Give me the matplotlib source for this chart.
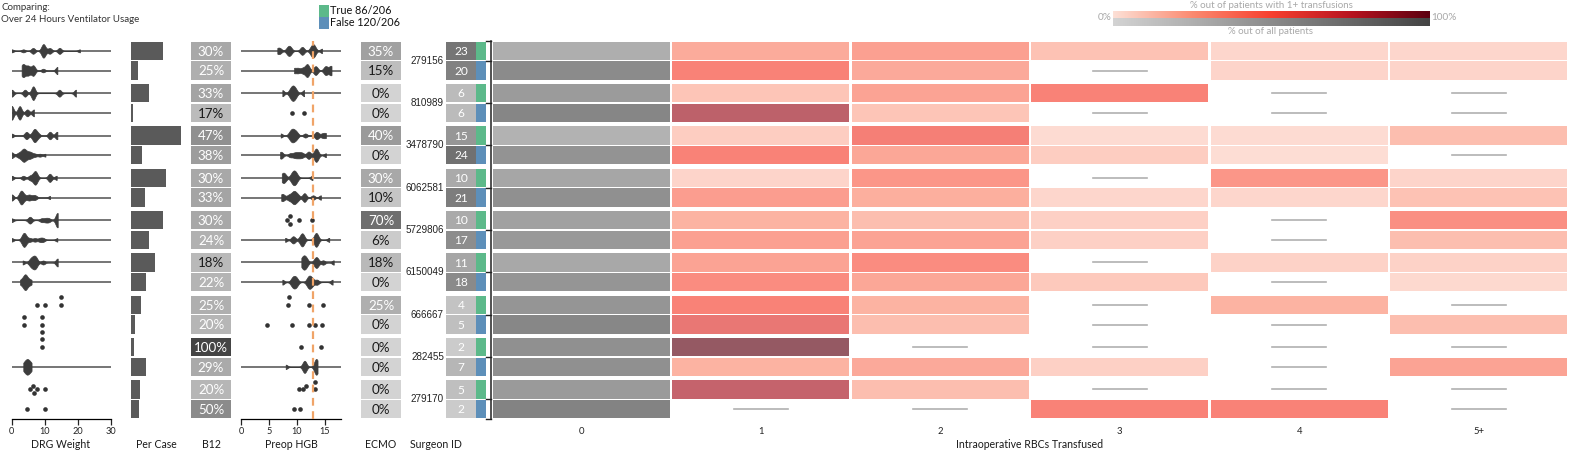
import numpy as np
import matplotlib
matplotlib.use("Agg")
import matplotlib.pyplot as plt
from matplotlib.colors import LinearSegmentedColormap
from matplotlib.patches import Rectangle
import matplotlib.transforms as mtransforms

plt.rcParams['font.family'] = ['Lato', 'DejaVu Sans']

# ---------------- data ----------------
surgeons = ['279156', '810989', '3478790', '6062581', '5729806',
            '6150049', '666667', '282455', '279170']
n_true = [23, 6, 15, 10, 10, 11, 4, 2, 5]
n_false = [20, 6, 24, 21, 17, 18, 5, 7, 2]
legend_labels = ['True 86/206', 'False 120/206']
title_lines = ['Comparing:', 'Over 24 Hours Ventilator Usage']

# rows: surgeon True, surgeon False, ...
per_case = [3.2, 0.7, 1.77, 0.2, 5.0, 1.07, 3.5, 1.4, 3.2, 1.77,
            2.43, 1.47, 1.03, 0.43, 0.33, 1.47, 0.87, 0.83]
b12_pct = [30, 25, 33, 17, 47, 38, 30, 33, 30, 24, 18, 22, 25, 20, 100, 29, 20, 50]
ecmo_pct = [35, 15, 0, 0, 40, 0, 30, 10, 70, 6, 18, 0, 25, 0, 0, 0, 0, 0]

rbc_labels = ['0', '1', '2', '3', '4', '5+']
pct_zero = [0.26, 0.50, 0.39, 0.54, 0.23, 0.45, 0.32, 0.47, 0.35, 0.41,
            0.30, 0.43, 0.43, 0.53, 0.47, 0.47, 0.40, 0.56]
nan = np.nan
rbc_1 = [0.29, 0.50, 0.17, 0.83, 0.13, 0.50, 0.10, 0.36, 0.25, 0.35,
         0.33, 0.45, 0.50, 0.60, 1.00, 0.25, 0.80, nan]
rbc_2 = [0.35, 0.30, 0.33, 0.17, 0.53, 0.31, 0.40, 0.27, 0.20, 0.33,
         0.45, 0.31, 0.25, 0.20, nan, 0.30, 0.20, nan]
rbc_3 = [0.18, nan, 0.50, nan, 0.07, 0.13, nan, 0.09, 0.12, 0.12,
         nan, 0.15, nan, nan, nan, 0.12, nan, 0.50]
rbc_4 = [0.09, 0.10, nan, nan, 0.07, 0.06, 0.40, 0.09, nan, nan,
         0.11, nan, 0.25, nan, nan, nan, nan, 0.50]
rbc_5 = [0.09, 0.10, nan, nan, 0.20, nan, 0.10, 0.18, 0.43, 0.20,
         0.11, 0.08, nan, 0.20, nan, 0.33, nan, nan]

drg_weight = [
    [0, 3.5, 6.3, 6.6, 9.2, 9.5, 9.5, 9.7, 10.0, 11.3, 11.7, 14.4, 14.5, 20.6],
    [3.0, 3.3, 3.5, 3.8, 4.5, 5.0, 5.2, 6.3, 6.5, 6.7, 9.5, 13.8, 13.8],
    [0, 4.0, 6.4, 6.6, 14.4, 19.4],
    [0, 0, 2.3, 2.5, 4.7, 6.7],
    [0, 4.3, 4.6, 6.3, 6.8, 7.0, 7.2, 8.0, 11.5, 11.6, 13.6, 13.8],
    [0, 0, 1.8, 2.5, 3.0, 3.5, 3.5, 3.8, 4.0, 4.5, 5.0, 5.5, 6.0, 7.0, 8.5, 10.2],
    [0, 3.5, 5.5, 6.5, 7.0, 7.2, 7.5, 11.4, 11.6, 13.6],
    [0, 0, 2.4, 2.7, 2.9, 3.0, 3.3, 4.0, 5.0, 5.5, 6.5, 7.2, 11.6],
    [0, 5.3, 5.7, 9.0, 10.2, 11.2, 13.7, 13.8, 13.8, 13.9],
    [0, 3.2, 3.5, 3.7, 4.0, 4.3, 5.5, 7.0, 8.5, 9.5, 13.8],
    [3.3, 5.5, 6.0, 6.5, 6.8, 7.2, 7.5, 9.5, 13.8, 13.9],
    [2.5, 3.0, 3.5, 3.8, 4.0, 4.0, 4.2, 4.3, 4.5, 5.0, 5.5, 6.0],
    [7.7, 10.1, 14.9, 14.9],
    [3.6, 3.8, 9.2, 9.3, 9.3],
    [9.2, 9.3],
    [3.5, 4.0, 4.5, 4.7, 5.0, 5.5, 6.0],
    [5.5, 6.3, 6.8, 7.7, 10.1],
    [4.7, 10.1],
]

preop_hgb = [
    [6.5, 7.0, 8.3, 8.6, 8.9, 10.8, 11.1, 12.5, 12.8, 13.0, 13.2, 14.5],
    [9.5, 10.2, 11.0, 11.6, 11.9, 12.0, 13.2, 13.5, 15.0, 15.3, 16.0, 16.2],
    [7.4, 8.8, 9.2, 9.4, 9.8, 11.3],
    [9.1, 11.2],
    [7.1, 8.7, 9.0, 9.2, 9.4, 9.7, 10.0, 11.5, 13.4, 13.7, 14.6, 15.2],
    [7.0, 7.3, 8.8, 9.5, 10.0, 10.5, 11.0, 12.0, 12.2, 13.2, 13.4, 13.5, 13.7, 15.2],
    [7.3, 7.6, 7.9, 9.0, 9.3, 9.5, 9.7, 10.0, 12.8],
    [7.2, 7.6, 8.5, 9.0, 9.4, 9.5, 9.8, 10.2, 11.3, 11.4, 12.9, 14.3],
    [8.3, 8.7, 8.8, 10.4, 12.7],
    [7.9, 9.2, 9.5, 10.6, 10.9, 11.0, 11.2, 13.2, 13.4, 13.5, 13.7, 15.8],
    [10.8, 11.1, 11.3, 11.5, 11.8, 13.2, 13.5, 13.7, 14.7, 16.6],
    [7.4, 9.1, 9.4, 9.7, 10.0, 11.9, 12.2, 12.4, 12.8, 13.6, 16.4],
    [8.4, 8.6, 12.1, 14.6],
    [4.6, 9.1, 12.2, 13.3, 14.5],
    [10.8, 14.3],
    [8.0, 11.2, 11.4, 11.5, 13.3, 13.4, 13.5, 13.7],
    [10.3, 11.1, 11.6, 13.3, 13.3],
    [9.5, 10.6],
]
hgb_reference = 12.8

# ---------------- style ----------------
W, H = 1571, 451
GREEN, BLUE = '#5cb98a', '#5d8fb9'
gray_cmap = LinearSegmentedColormap.from_list('g', ['#d3d3d3', '#444444'])
red_cmap = LinearSegmentedColormap.from_list(
    'r', ['#fde0d6', '#fb8a70', '#f7402f', '#b81420', '#5c0010'])

fig = plt.figure(figsize=(W / 100, H / 100), dpi=100)


def add_ax(x0, x1, y0=41.0, y1=419.0):
    return fig.add_axes([x0 / W, 1 - y1 / H, (x1 - x0) / W, (y1 - y0) / H])


counts = [c for pair in zip(n_true, n_false) for c in pair]
nrow = len(counts)
GAP = 0.15
ypos = np.array([(i // 2) * (2 + GAP) + (i % 2) for i in range(nrow)], dtype=float)
YLIM = (ypos[-1] + 0.5, -0.5)
CH = 0.93
ROW_PX = (419.0 - 41.0) / (YLIM[0] - YLIM[1])


def prep(ax, xlim):
    ax.set_xlim(*xlim)
    ax.set_ylim(*YLIM)
    ax.axis('off')


def kde(vals, grid, bw):
    v = np.asarray(vals, float)[:, None]
    return np.exp(-0.5 * ((grid[None, :] - v) / bw) ** 2).sum(0) / (len(vals) * bw * np.sqrt(2 * np.pi))


def swarm(vals, ppu, dot=4.6):
    placed, offs = [], []
    for v in vals:
        x = v * ppu
        for k in [0, -1, 1, -2, 2, -3, 3]:
            yy = k * dot * 0.85
            if all((x - a) ** 2 + (yy - b) ** 2 >= (dot * 0.95) ** 2 for a, b in placed):
                break
        placed.append((x, yy))
        offs.append(yy / ROW_PX)
    return np.array(offs)


def draw_dist(ax, rows, bw, xmax, ppu):
    dens = []
    for vals in rows:
        if len(vals) >= 6:
            g = np.linspace(min(vals), max(vals), 500)
            dens.append((g, kde(vals, g, bw)))
        else:
            dens.append(None)
    gpeak = max(d[1].max() for d in dens if d is not None)
    for i, (vals, d) in enumerate(zip(rows, dens)):
        y = ypos[i]
        if d is not None:
            p = d[1].max()
            half = d[1] / p * (0.22 + 0.18 * (p / gpeak) ** 0.7)
            ax.plot([0, xmax], [y, y], color='#505050', lw=1.1, zorder=1)
            ax.fill_between(d[0], y - half, y + half, color='#3d3d3d',
                            lw=0.5, edgecolor='#3d3d3d', zorder=2)
        else:
            offs = swarm(vals, ppu)
            ax.scatter(vals, y + offs, s=11, color='#333333', lw=0, zorder=3)


def style_axis(ax, xlim, ticks):
    ax.set_xlim(*xlim)
    ax.set_ylim(*YLIM)
    ax.set_yticks([])
    for s in ['top', 'left', 'right']:
        ax.spines[s].set_visible(False)
    ax.spines['bottom'].set_linewidth(0.9)
    ax.set_xticks(ticks)
    ax.tick_params(axis='x', length=4, width=0.9, labelsize=6.6, pad=2, colors='#222222')
    ax.patch.set_alpha(0)


# ---- DRG Weight ----
ax_drg = add_ax(11.7, 111.0)
draw_dist(ax_drg, drg_weight, 0.55, 30, 3.31)
style_axis(ax_drg, (0, 30), [0, 10, 20, 30])

# ---- Per Case ----
ax_pc = add_ax(131, 181)
ax_pc.barh(ypos, per_case, height=CH, color='#5a5a5a', lw=0)
prep(ax_pc, (0, max(per_case)))


# ---- percentage cells ----
def pct_cells(ax, vals):
    fr = np.array(vals) / 100.0
    ax.barh(ypos, 1, left=0, height=CH, color=gray_cmap(fr), lw=0)
    for y, v, f in zip(ypos, vals, fr):
        ax.text(0.5, y + 0.04, f'{v}%', ha='center', va='center', fontsize=9.6,
                color='white' if f >= 0.195 else '#1a1a1a')
    prep(ax, (0, 1))


ax_b12 = add_ax(191, 231)
pct_cells(ax_b12, b12_pct)

# ---- Preop HGB ----
ax_hgb = add_ax(241, 341)
draw_dist(ax_hgb, preop_hgb, 0.33, 17.9, 5.6)
ax_hgb.axvline(hgb_reference, color='#f0a468', lw=1.6, ls=(0, (3.5, 2.5)), zorder=4)
style_axis(ax_hgb, (0, 17.9), [0, 5, 10, 15])

ax_ecmo = add_ax(361, 401)
pct_cells(ax_ecmo, ecmo_pct)

# ---- counts ----
ax_cnt = add_ax(446, 476)
cfr = np.array(counts) / 35.0
ax_cnt.barh(ypos, 1, left=0, height=CH, color=gray_cmap(cfr), lw=0)
for y, c in zip(ypos, counts):
    ax_cnt.text(0.5, y + 0.04, str(c), ha='center', va='center', fontsize=8.6, color='white')
prep(ax_cnt, (0, 1))
for g, s in enumerate(surgeons):
    ax_cnt.text(-0.07, (ypos[2 * g] + ypos[2 * g + 1]) / 2, s, ha='right', va='center',
                fontsize=7.1, family=['Liberation Sans', 'DejaVu Sans'], color='#222222')

ax_ind = add_ax(476, 486)
ax_ind.barh(ypos, 1, height=CH, color=[GREEN if i % 2 == 0 else BLUE for i in range(nrow)], lw=0)
prep(ax_ind, (0, 1))

# bracket
ax_br = add_ax(486, 492)
prep(ax_br, (0, 1))
ax_br.plot([0.83, 0.83], [YLIM[1], YLIM[0]], color='#222222', lw=1.1, clip_on=False)
for yb in [YLIM[1], YLIM[0]] + [ypos[2 * g] + 0.5 for g in range(len(surgeons))]:
    ax_br.plot([0, 0.83], [yb, yb], color='#222222', lw=1.0, clip_on=False)

# ---- heatmap ----
ax_h = add_ax(491.5, 1568.5)
prep(ax_h, (-0.5, 5.5))
cgap = 0.012
rbc_cols = [rbc_1, rbc_2, rbc_3, rbc_4, rbc_5]
ax_h.barh(ypos, 1 - cgap, left=-0.5 + cgap / 2, height=CH,
          color=gray_cmap(np.array(pct_zero)), lw=0)
for j, col in enumerate(rbc_cols, start=1):
    arr = np.array(col, float)
    ok = ~np.isnan(arr)
    ax_h.barh(ypos[ok], 1 - cgap, left=j - 0.5 + cgap / 2, height=CH,
              color=red_cmap(arr[ok]), alpha=0.65, lw=0)
    for y in ypos[~ok]:
        ax_h.plot([j - 0.15, j + 0.15], [y, y], color='#b0b0b0', lw=1.2)
for j, lab in enumerate(rbc_labels):
    ax_h.text(j, 1 - 432 / H, lab, transform=mtransforms.blended_transform_factory(ax_h.transData, fig.transFigure),
              ha='center', va='center', fontsize=6.8, color='#222222')

# ---- bottom labels ----
for x, lab in [(61, 'DRG Weight'), (156, 'Per Case'), (211, 'B12'), (291, 'Preop HGB'),
               (381, 'ECMO'), (436, 'Surgeon ID'), (1030, 'Intraoperative RBCs Transfused')]:
    fig.text(x / W, 1 - 444.5 / H, lab, ha='center', va='center', fontsize=7.6, color='#1a1a1a')

# ---- title ----
for k, t in enumerate(title_lines):
    fig.text(1 / W, 1 - (8 + 12 * k) / H, t, ha='left', va='center', fontsize=7.0, color='#333333')

# ---- group legend ----
for k, (lab, col) in enumerate(zip(legend_labels, [GREEN, BLUE])):
    y0 = 5 + 12 * k
    fig.add_artist(Rectangle((319 / W, 1 - (y0 + 12) / H), 9.5 / W, 12 / H,
                             transform=fig.transFigure, color=col, lw=0))
    fig.text(329.5 / W, 1 - (y0 + 6) / H, lab, ha='left', va='center', fontsize=7.8, color='#111111')

# ---- colour legend ----
grad = np.linspace(0, 1, 256)[None, :]
ax_cr = fig.add_axes([1113 / W, 1 - 18.3 / H, (1430 - 1113) / W, 7.3 / H])
ax_cr.imshow(grad, aspect='auto', cmap=red_cmap, extent=(0, 1, 0, 1))
ax_cr.axis('off')
ax_cg = fig.add_axes([1113 / W, 1 - 26 / H, (1430 - 1113) / W, 7.7 / H])
ax_cg.imshow(grad, aspect='auto', cmap=gray_cmap, extent=(0, 1, 0, 1))
ax_cg.axis('off')
lc = '#a8a8a8'
fig.text(1112 / W, 1 - 17.3 / H, '0%', ha='right', va='center', fontsize=7.2, color=lc)
fig.text(1431 / W, 1 - 17.3 / H, '100%', ha='left', va='center', fontsize=7.2, color=lc)
fig.text(1271 / W, 1 - 5.7 / H, '% out of patients with 1+ transfusions', ha='center', va='center',
         fontsize=7.0, color=lc)
fig.text(1271 / W, 1 - 31.5 / H, '% out of all patients', ha='center', va='center',
         fontsize=7.0, color=lc)

fig.savefig('out.png', dpi=100)
